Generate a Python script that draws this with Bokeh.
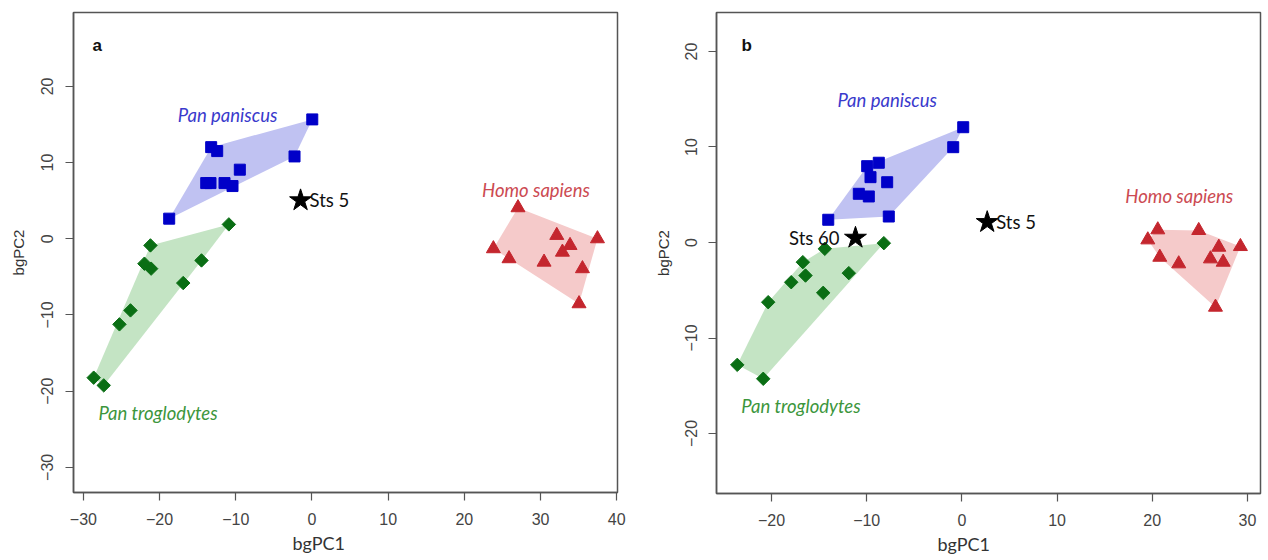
import math
from bokeh.plotting import figure
from bokeh.layouts import row
from bokeh.models import FixedTicker, CustomJSTickFormatter, Label, Range1d, Title
from bokeh.embed import file_html
from bokeh.resources import INLINE

# ---------------- data: panel a ----------------
a_pp_x = [0.04, -2.29, -13.23, -12.44, -9.47, -13.88, -13.32, -11.48, -10.43, -18.74]
a_pp_y = [15.67, 10.81, 12.03, 11.51, 9.07, 7.31, 7.31, 7.31, 6.92, 2.64]
a_pt_x = [-10.91, -21.20, -21.99, -21.11, -14.50, -16.90, -23.82, -25.27, -28.65, -27.33]
a_pt_y = [1.89, -0.87, -3.27, -3.92, -2.84, -5.81, -9.40, -11.23, -18.23, -19.24]
a_hs_x = [27.04, 23.81, 25.86, 30.46, 32.13, 33.87, 32.87, 37.47, 35.50, 35.05]
a_hs_y = [4.08, -1.30, -2.61, -3.06, 0.45, -0.87, -1.75, 0.01, -3.92, -8.52]
a_fossil_x = [-1.5]
a_fossil_y = [5.04]
a_fossil_names = ["Sts 5"]
a_xticks = [-30, -20, -10, 0, 10, 20, 30, 40]
a_yticks = [-30, -20, -10, 0, 10, 20]

# ---------------- data: panel b ----------------
b_pp_x = [0.14, -0.91, -9.95, -8.73, -9.60, -7.85, -10.83, -9.78, -7.68, -14.04]
b_pp_y = [12.07, 9.98, 7.99, 8.35, 6.84, 6.31, 5.10, 4.82, 2.72, 2.38]
b_pt_x = [-8.20, -14.40, -16.71, -16.43, -11.88, -17.93, -14.57, -20.35, -23.60, -20.87]
b_pt_y = [-0.07, -0.66, -2.06, -3.46, -3.21, -4.16, -5.27, -6.25, -12.81, -14.27]
b_hs_x = [20.58, 19.53, 24.88, 20.79, 22.78, 26.99, 29.26, 26.11, 27.45, 26.64]
b_hs_y = [1.33, 0.28, 1.26, -1.54, -2.23, -0.49, -0.42, -1.71, -2.06, -6.77]
b_fossil_x = [-11.18, 2.66]
b_fossil_y = [0.49, 2.13]
b_fossil_names = ["Sts 60", "Sts 5"]
b_xticks = [-20, -10, 0, 10, 20, 30]
b_yticks = [-20, -10, 0, 10, 20]

species_names = ["Pan paniscus", "Pan troglodytes", "Homo sapiens"]

# ---------------- styles ----------------
BLUE = "#0000C8"
GREEN = "#0A6E14"
RED = "#C4262E"
BLUE_FILL = "#C0C2F2"
GREEN_FILL = "#C4E4C4"
RED_FILL = "#F5CACA"
BLUE_TXT = "#3A3ACC"
GREEN_TXT = "#3C963C"
RED_TXT = "#CC4A52"
AXIS = "#555555"
TICK_FONT = "Liberation Sans"
LAB_FONT = "Lato"


def hull(xs, ys):
    pts = sorted(set(zip(xs, ys)))
    if len(pts) < 3:
        return [p[0] for p in pts], [p[1] for p in pts]

    def cross(o, a, b):
        return (a[0] - o[0]) * (b[1] - o[1]) - (a[1] - o[1]) * (b[0] - o[0])

    lower = []
    for p in pts:
        while len(lower) >= 2 and cross(lower[-2], lower[-1], p) <= 0:
            lower.pop()
        lower.append(p)
    upper = []
    for p in reversed(pts):
        while len(upper) >= 2 and cross(upper[-2], upper[-1], p) <= 0:
            upper.pop()
        upper.append(p)
    h = lower[:-1] + upper[:-1]
    return [p[0] for p in h], [p[1] for p in h]


fmt_code = "return String(tick).replace('-', '\\u2212');"


def make_panel(frame_w, frame_h, border_left, border_right,
               xr, yr, xticks, yticks, tick_standoff_y, ylabel_standoff,
               letter, letter_xy, pp, pt, hs, fossils, labels_xy, xlabel_offset):
    p = figure(frame_width=frame_w, frame_height=frame_h, output_backend="svg",
               toolbar_location=None, tools="",
               x_range=Range1d(*xr), y_range=Range1d(*yr),
               min_border_left=border_left, min_border_right=border_right,
               min_border_top=12, min_border_bottom=10)
    p.xgrid.visible = False
    p.ygrid.visible = False
    p.background_fill_color = "white"
    p.border_fill_color = "white"
    p.outline_line_color = AXIS
    p.outline_line_width = 1.5

    p.xaxis.ticker = FixedTicker(ticks=xticks)
    p.yaxis.ticker = FixedTicker(ticks=yticks)
    for ax in (p.xaxis[0], p.yaxis[0]):
        ax.formatter = CustomJSTickFormatter(code=fmt_code)
        ax.axis_line_color = AXIS
        ax.axis_line_width = 1.5
        ax.major_tick_line_color = AXIS
        ax.major_tick_line_width = 1.2
        ax.major_tick_out = 8
        ax.major_tick_in = 0
        ax.minor_tick_line_color = None
        ax.major_label_text_font = TICK_FONT
        ax.major_label_text_font_size = "16px"
        ax.major_label_text_color = "#444444"
    p.xaxis.major_label_standoff = 12
    p.yaxis.major_label_standoff = tick_standoff_y
    p.yaxis.major_label_orientation = "vertical"
    p.yaxis.axis_label = "bgPC2"
    p.yaxis.axis_label_text_font = TICK_FONT
    p.yaxis.axis_label_text_font_style = "normal"
    p.yaxis.axis_label_text_font_size = "15px"
    p.yaxis.axis_label_text_color = "#333333"
    p.yaxis.axis_label_standoff = ylabel_standoff

    # x axis title, sitting under the zero tick as in the reference
    p.add_layout(Title(text="bgPC1", align="left", offset=xlabel_offset,
                       standoff=4, text_font=LAB_FONT, text_font_size="18px",
                       text_font_style="normal", text_color="#333333"), "below")

    groups = [
        (pp, BLUE, BLUE_FILL, "square", 11, 0.0),
        (pt, GREEN, GREEN_FILL, "square", 9.5, math.pi / 4),
        (hs, RED, RED_FILL, "triangle", 14, 0.0),
    ]
    for (xs, ys), col, fill, mk, sz, ang in groups:
        hx, hy = hull(xs, ys)
        p.patch(hx, hy, fill_color=fill, fill_alpha=1.0, line_color=None)
    for (xs, ys), col, fill, mk, sz, ang in groups:
        p.scatter(xs, ys, marker=mk, size=sz, angle=ang,
                  fill_color=col, line_color=col, line_width=1)

    fx, fy, fnames, falign = fossils
    p.scatter(fx, fy, marker="star", size=23, fill_color="black", line_color="black")
    for x, y, name, al in zip(fx, fy, fnames, falign):
        off = 9 if al == "left" else -16
        p.add_layout(Label(x=x, y=y, text=name, x_offset=off, text_align=al,
                           text_baseline="middle", text_font=LAB_FONT,
                           text_font_size="18.5px", text_color="#111111"))

    cols = [BLUE_TXT, GREEN_TXT, RED_TXT]
    for (lx, ly), name, c in zip(labels_xy, species_names, cols):
        p.add_layout(Label(x=lx, y=ly, text=name, text_align="center",
                           text_baseline="middle", text_font=LAB_FONT,
                           text_font_style="italic", text_font_size="18.5px",
                           text_color=c))

    p.add_layout(Label(x=letter_xy[0], y=letter_xy[1], text=letter,
                       text_align="center", text_baseline="middle",
                       text_font=TICK_FONT, text_font_style="bold",
                       text_font_size="17px", text_color="#111111"))
    return p


pa = make_panel(544, 480, 73, 33,
                (-31.3, 40.1), (-33.3, 29.7), a_xticks, a_yticks, 12, 12,
                "a", (-28.2, 25.4),
                (a_pp_x, a_pp_y), (a_pt_x, a_pt_y), (a_hs_x, a_hs_y),
                (a_fossil_x, a_fossil_y, a_fossil_names, ["left"]),
                [(-11.08, 16.19), (-20.2, -22.9), (29.4, 6.44)],
                219)

pb = make_panel(544, 481, 66, 2,
                (-25.78, 31.37), (-26.28, 24.08), b_xticks, b_yticks, 11, 11,
                "b", (-22.6, 20.6),
                (b_pp_x, b_pp_y), (b_pt_x, b_pt_y), (b_hs_x, b_hs_y),
                (b_fossil_x, b_fossil_y, b_fossil_names, ["right", "left"]),
                [(-7.85, 14.87), (-16.9, -17.14), (22.84, 4.82)],
                221)

layout = row(pa, pb)
open("out.html", "w").write(file_html(layout, INLINE))
